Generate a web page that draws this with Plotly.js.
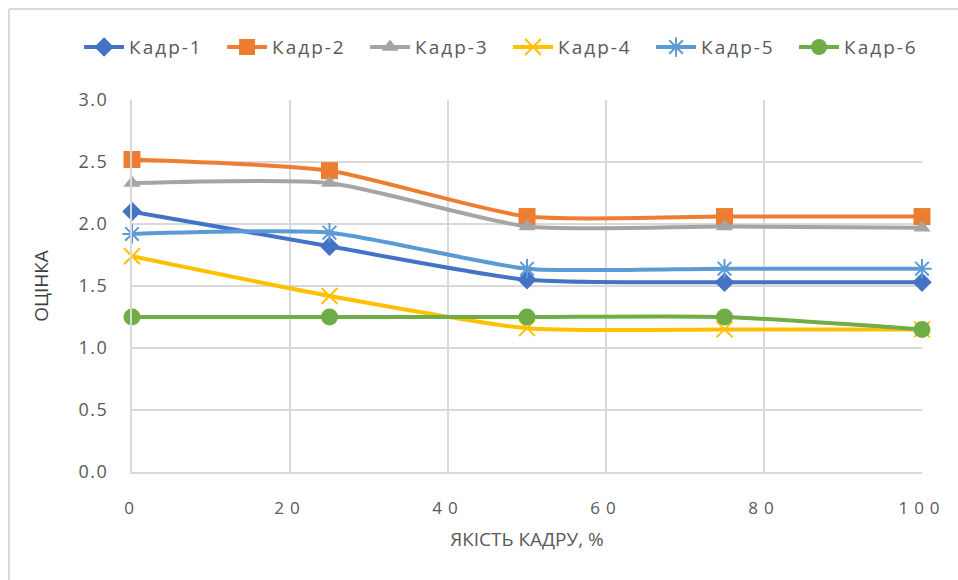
<!DOCTYPE html>
<html>
<head>
<meta charset="utf-8">
<script src="https://cdn.plot.ly/plotly-3.0.1.min.js"></script>
<style>
  html, body { margin: 0; padding: 0; background: #fff; }
  #chart { width: 958px; height: 580px; }
  /* widened spacing of the axis and legend lettering */
  #chart .xtick text { letter-spacing: 6px !important; }
  #chart .ytick text { letter-spacing: 1.5px !important; }
  #chart .legend text.legendtext { letter-spacing: 2px !important; }
</style>
</head>
<body>
<div id="chart"></div>
<script>
// Frame quality (%) on the x axis
const quality = [0, 25, 50, 75, 100];

// Scores per frame
const kadr1 = [2.10, 1.82, 1.55, 1.53, 1.53];
const kadr2 = [2.52, 2.43, 2.06, 2.06, 2.06];
const kadr3 = [2.33, 2.33, 1.98, 1.98, 1.97];
const kadr4 = [1.74, 1.42, 1.16, 1.15, 1.15];
const kadr5 = [1.92, 1.93, 1.64, 1.64, 1.64];
const kadr6 = [1.25, 1.25, 1.25, 1.25, 1.15];

const seriesNames = ['Кадр-1', 'Кадр-2', 'Кадр-3', 'Кадр-4', 'Кадр-5', 'Кадр-6'];
const seriesValues = [kadr1, kadr2, kadr3, kadr4, kadr5, kadr6];

const xTickVals = [0, 20, 40, 60, 80, 100];
const yTickVals = [0, 0.5, 1, 1.5, 2, 2.5, 3];

const colors = ['#4472C4', '#ED7D31', '#A5A5A5', '#FFC000', '#5B9BD5', '#70AD47'];
const symbols = ['diamond', 'square', 'triangle-up', 'x-thin-open', 'asterisk-open', 'circle'];
const sizes = [15, 17, 15, 16, 16, 17];

const FONT = '"Open Sans", Lato, sans-serif';
const TEXT = '#595959';
const GRID = '#D9D9D9';

const traces = seriesNames.map((name, i) => ({
  type: 'scatter',
  mode: 'lines+markers',
  name: name,
  x: quality,
  y: seriesValues[i],
  line: { color: colors[i], width: 4, shape: 'spline', smoothing: 0.6 },
  marker: {
    symbol: symbols[i],
    size: sizes[i],
    color: colors[i],
    line: { color: colors[i], width: (symbols[i].indexOf('open') >= 0) ? 2 : 0 }
  },
  cliponaxis: false
}));

const layout = {
  width: 958,
  height: 580,
  margin: { l: 132, r: 36, t: 100, b: 108 },
  paper_bgcolor: '#ffffff',
  plot_bgcolor: '#ffffff',
  font: { family: FONT, color: TEXT, size: 17 },
  showlegend: true,
  legend: {
    orientation: 'h',
    x: -0.067,
    xanchor: 'left',
    y: 1.142,
    yanchor: 'middle',
    font: { family: FONT, size: 19, color: TEXT },
    itemwidth: 40,
    entrywidth: 88,
    entrywidthmode: 'pixels',
    tracegroupgap: 0,
    bgcolor: 'rgba(0,0,0,0)'
  },
  xaxis: {
    range: [0, 100],
    tickvals: xTickVals,
    ticktext: xTickVals.map(String),
    showgrid: true,
    gridcolor: GRID,
    gridwidth: 2,
    zeroline: false,
    showline: true,
    linecolor: GRID,
    linewidth: 2,
    ticks: '',
    ticklabelstandoff: 20,
    tickfont: { family: FONT, size: 17, color: TEXT },
    title: {
      text: 'ЯКІСТЬ КАДРУ, %',
      font: { family: FONT, size: 19, color: TEXT },
      standoff: 14
    },
    fixedrange: true
  },
  yaxis: {
    range: [0, 3],
    tickvals: yTickVals,
    tickformat: '.1f',
    showgrid: true,
    gridcolor: GRID,
    gridwidth: 2,
    zeroline: false,
    showline: true,
    linecolor: GRID,
    linewidth: 2,
    ticks: '',
    ticklabelstandoff: 18,
    tickfont: { family: FONT, size: 18, color: TEXT },
    title: {
      text: 'ОЦІНКА',
      font: { family: FONT, size: 19, color: '#404040' },
      standoff: 29
    },
    fixedrange: true
  },
  shapes: [
    // chart border (top and left edges)
    { type: 'line', xref: 'paper', yref: 'paper',
      x0: (9 - 132) / 790, x1: (958 - 132) / 790, y0: (472 - 9) / 372, y1: (472 - 9) / 372,
      line: { color: '#D9D9D9', width: 2 } },
    { type: 'line', xref: 'paper', yref: 'paper',
      x0: (9 - 132) / 790, x1: (9 - 132) / 790, y0: (472 - 9) / 372, y1: (472 - 580) / 372,
      line: { color: '#D9D9D9', width: 2 } }
  ]
};

Plotly.newPlot('chart', traces, layout, { staticPlot: true, displayModeBar: false });
</script>
</body>
</html>
